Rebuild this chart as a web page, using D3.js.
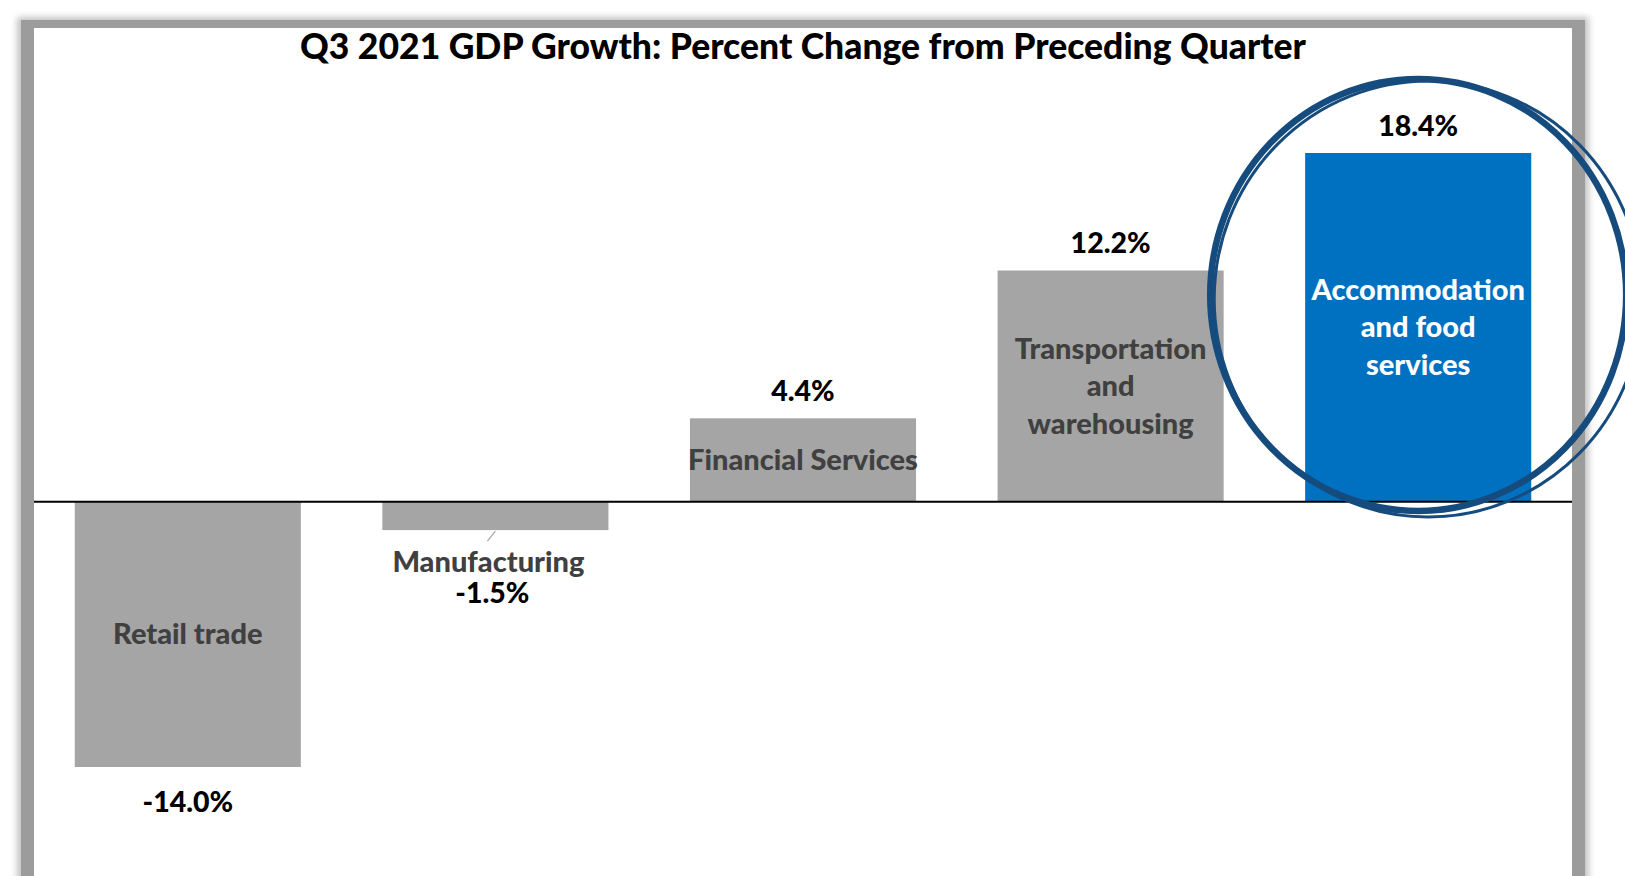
<!DOCTYPE html>
<html>
<head>
<meta charset="utf-8">
<script src="https://cdn.jsdelivr.net/npm/d3@7"></script>
<style>
  body { margin: 0; background: #fff; }
  svg { display: block; }
</style>
</head>
<body>
<svg id="chart" width="1625" height="876"></svg>
<script>
const categories = ['Retail trade', 'Manufacturing', 'Financial Services', 'Transportation and warehousing', 'Accommodation and food services']
const labelLines = [['Retail trade'], ['Manufacturing'], ['Financial Services'], ['Transportation', 'and', 'warehousing'], ['Accommodation', 'and food', 'services']]
const values = [-14.0, -1.5, 4.4, 12.2, 18.4]
const highlight = 'Accommodation and food services'
const titleText = 'Q3 2021 GDP Growth: Percent Change from Preceding Quarter'

const svg = d3.select('#chart')
const width = +svg.attr('width')
const height = +svg.attr('height')
const font = 'Lato, "Open Sans", sans-serif'
const weight = 900
const grey = '#a5a5a5'
const blue = '#0070c0'
const ring = '#164b7e'
const labelColor = '#404040'
const labelSize = '29px'
const valueSize = '28.5px'

const frameLeft = 34
const frameRight = 1572
const frameTop = 28

// frame with soft shadow
const defs = svg.append('defs')
defs.append('filter').attr('id', 'shadow')
	.attr('x', '-5%').attr('y', '-5%').attr('width', '110%').attr('height', '110%')
	.append('feGaussianBlur').attr('stdDeviation', 3)

svg.append('rect')
	.attr('x', frameLeft - 17).attr('y', frameTop - 11)
	.attr('width', frameRight - frameLeft + 34).attr('height', height)
	.attr('fill', '#c4c4c4')
	.attr('filter', 'url(#shadow)')
svg.append('rect')
	.attr('x', frameLeft - 13).attr('y', frameTop - 8)
	.attr('width', frameRight - frameLeft + 26).attr('height', height)
	.attr('fill', '#9c9c9c')
svg.append('rect')
	.attr('x', frameLeft).attr('y', frameTop)
	.attr('width', frameRight - frameLeft).attr('height', height)
	.attr('fill', '#fff')

const xScale = d3.scaleBand()
	.domain(categories)
	.range([frameLeft, frameRight])
	.paddingInner(0.265)
	.paddingOuter(0.1325)

const yScale = d3.scaleLinear()
	.domain([d3.min(values), d3.max(values)])
	.range([767, 153])

const data = categories.map((c, i) => ({ name: c, value: values[i], lines: labelLines[i] }))

svg.append('text')
	.attr('x', (frameLeft + frameRight) / 2)
	.attr('y', 59)
	.attr('text-anchor', 'middle')
	.attr('font-family', font)
	.attr('font-weight', weight)
	.attr('font-size', '35.5px')
	.attr('fill', '#000')
	.text(titleText)

svg.selectAll('rect.bar')
	.data(data)
	.enter()
	.append('rect')
		.attr('class', 'bar')
		.attr('x', d => xScale(d.name))
		.attr('width', xScale.bandwidth())
		.attr('y', d => yScale(Math.max(0, d.value)))
		.attr('height', d => Math.abs(yScale(d.value) - yScale(0)))
		.attr('fill', d => d.name === highlight ? blue : grey)

svg.append('line')
	.attr('x1', frameLeft).attr('x2', frameRight)
	.attr('y1', yScale(0)).attr('y2', yScale(0))
	.attr('stroke', '#000')
	.attr('stroke-width', 2)

const fmt = v => v.toFixed(1) + '%'
const cx = d => xScale(d.name) + xScale.bandwidth() / 2
const lineGap = 37.5

// category labels: inside the bar, except the short manufacturing bar
data.forEach(d => {
	const small = Math.abs(yScale(d.value) - yScale(0)) < 40
	const mid = (yScale(d.value) + yScale(0)) / 2
	const n = d.lines.length
	const g = svg.append('g')
		.attr('font-family', font)
		.attr('font-weight', weight)
		.attr('text-anchor', 'middle')

	if (small) {
		svg.append('line')
			.attr('x1', cx(d)).attr('y1', yScale(d.value) + 1)
			.attr('x2', cx(d) - 8).attr('y2', yScale(d.value) + 11)
			.attr('stroke', grey)
			.attr('stroke-width', 1.2)
		g.append('text')
			.attr('x', cx(d) - 7)
			.attr('y', yScale(d.value) + 42)
			.attr('font-size', labelSize)
			.attr('fill', labelColor)
			.text(d.lines[0])
		g.append('text')
			.attr('x', cx(d) - 3)
			.attr('y', yScale(d.value) + 73)
			.attr('font-size', valueSize)
			.attr('fill', '#000')
			.text(fmt(d.value))
		return
	}

	d.lines.forEach((t, j) => {
		g.append('text')
			.attr('x', cx(d))
			.attr('y', mid + 10 + (j - (n - 1) / 2) * lineGap)
			.attr('font-size', labelSize)
			.attr('fill', d.name === highlight ? '#fff' : labelColor)
			.text(t)
	})

	g.append('text')
		.attr('x', cx(d))
		.attr('y', d.value >= 0 ? yScale(d.value) - 17 : yScale(d.value) + 45)
		.attr('font-size', valueSize)
		.attr('fill', '#000')
		.text(fmt(d.value))
})

// hand-drawn ring around the highlighted bar
const hx = xScale(highlight) + xScale.bandwidth() / 2
svg.append('ellipse')
	.attr('cx', hx).attr('cy', 295)
	.attr('rx', 208).attr('ry', 216)
	.attr('fill', 'none')
	.attr('stroke', ring)
	.attr('stroke-width', 6.5)
svg.append('ellipse')
	.attr('cx', hx + 10).attr('cy', 299)
	.attr('rx', 214).attr('ry', 218)
	.attr('fill', 'none')
	.attr('stroke', ring)
	.attr('stroke-width', 3)
</script>
</body>
</html>
